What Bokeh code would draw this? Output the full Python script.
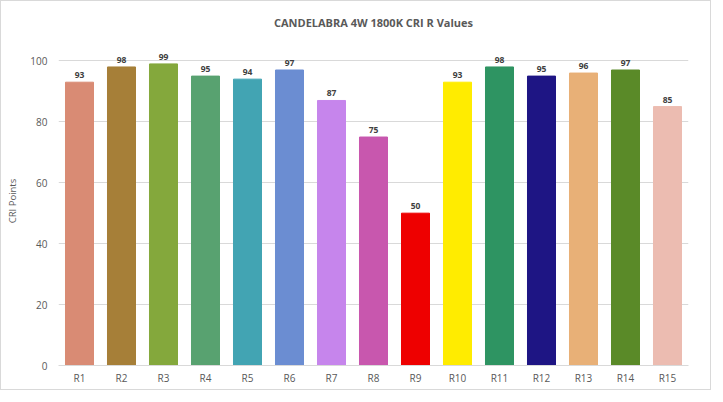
from bokeh.plotting import figure
from bokeh.models import ColumnDataSource, FixedTicker
from bokeh.core.properties import value
from bokeh.embed import file_html
from bokeh.resources import INLINE

categories = ["R1", "R2", "R3", "R4", "R5", "R6", "R7", "R8", "R9", "R10",
              "R11", "R12", "R13", "R14", "R15"]
cri_values = [93, 98, 99, 95, 94, 97, 87, 75, 50, 93, 98, 95, 96, 97, 85]
bar_colors = ["#D98B74", "#A67F38", "#84A83C", "#58A270", "#42A4B3", "#6B8DD2",
              "#C685EC", "#C857AE", "#EE0000", "#FFEC00", "#2E9462", "#1E1584",
              "#E8B077", "#5A8A28", "#ECBCB1"]
y_ticks = [0, 20, 40, 60, 80, 100]
title_text = "CANDELABRA 4W 1800K CRI R Values"
y_label = "CRI Points"

src = ColumnDataSource(dict(
    cat=categories, val=cri_values, color=bar_colors,
    lab=[str(v) for v in cri_values],
))

p = figure(x_range=categories, y_range=(0, 108), width=711, height=390,
           output_backend="svg", toolbar_location=None,
           min_border_left=57, min_border_right=24, min_border_top=35,
           min_border_bottom=26)
p.outline_line_color = None
p.styles = {"border": "1px solid #D9D9D9", "box-sizing": "border-box"}
p.background_fill_color = "white"
p.border_fill_color = "white"

p.vbar(x="cat", top="val", width=0.667, color="color", source=src)
p.text(x="cat", y="val", text="lab", source=src, text_align="center",
       text_baseline="bottom", y_offset=-4, text_font=value("Open Sans"),
       text_font_size="8.5px", text_font_style="bold", text_color="#404040")

# grid
p.xgrid.grid_line_color = None
p.ygrid.grid_line_color = "#D9D9D9"
p.ygrid.ticker = FixedTicker(ticks=y_ticks)

# y axis
p.yaxis.ticker = FixedTicker(ticks=y_ticks)
p.yaxis.axis_line_color = None
p.yaxis.major_tick_line_color = None
p.yaxis.minor_tick_line_color = None
p.yaxis.major_tick_out = 0
p.yaxis.major_tick_in = 0
p.yaxis.minor_tick_out = 0
p.yaxis.major_label_text_font = "Open Sans"
p.yaxis.major_label_text_font_size = "10px"
p.yaxis.major_label_text_color = "#595959"
p.yaxis.major_label_standoff = 11
p.yaxis.axis_label = y_label
p.yaxis.axis_label_text_font = "Open Sans"
p.yaxis.axis_label_text_font_size = "9.5px"
p.yaxis.axis_label_text_font_style = "normal"
p.yaxis.axis_label_text_color = "#595959"
p.yaxis.axis_label_standoff = 8

# x axis
p.xaxis.axis_line_color = "#D9D9D9"
p.xaxis.major_tick_line_color = None
p.xaxis.minor_tick_line_color = None
p.xaxis.major_tick_out = 0
p.xaxis.major_tick_in = 0
p.xaxis.minor_tick_out = 0
p.xaxis.major_label_text_font = "Open Sans"
p.xaxis.major_label_text_font_size = "10px"
p.xaxis.major_label_text_color = "#595959"
p.xaxis.major_label_standoff = 5

p.title.text = title_text
p.title.align = "center"
p.title.vertical_align = "top"
p.title.text_font = "Open Sans"
p.title.text_font_size = "11px"
p.title.text_font_style = "bold"
p.title.text_color = "#595959"
p.title.offset = 0
p.title.standoff = 10

html = file_html(p, INLINE)
open("out.html", "w").write(html)
